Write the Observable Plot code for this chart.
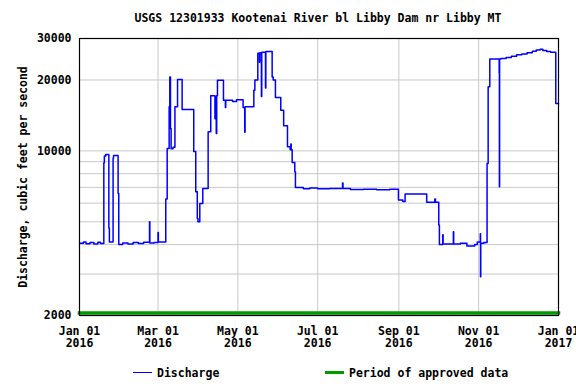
<!DOCTYPE html>
<html>
<head>
<meta charset="utf-8">
<script src="https://cdn.jsdelivr.net/npm/d3@7"></script>
<script src="https://cdn.jsdelivr.net/npm/@observablehq/plot@0.6"></script>
<style>
  body { margin: 0; background: #fff; }
  #wrap { position: relative; width: 576px; height: 384px; overflow: hidden;
          font-family: "DejaVu Sans Mono", monospace; font-weight: bold; font-size: 11.5px; color: #000; }
  #title { position: absolute; left: 60px; width: 516px; top: 11px; line-height: 14px; text-align: center; white-space: nowrap; }
  #chart { position: absolute; left: 0; top: 28px; }
  .lg { position: absolute; top: 366px; line-height: 14px; white-space: nowrap; }
  .sw { position: absolute; }
</style>
</head>
<body>
<div id="wrap">
  <div id="title"></div>
  <div id="chart"></div>
  <span class="sw" id="sw1" style="left:133px; top:372px; width:19px; height:1px; background:#0000ff;"></span>
  <span class="lg" id="lg1" style="left:157px;"></span>
  <span class="sw" id="sw2" style="left:325px; top:371px; width:19px; height:3px; background:#009900;"></span>
  <span class="lg" id="lg2" style="left:349px;"></span>
</div>
<script>
const titleText = "USGS 12301933 Kootenai River bl Libby Dam nr Libby MT";
const yLabel = "Discharge, cubic feet per second";
const seriesName = "Discharge";
const approvedName = "Period of approved data";

// Discharge step series (time of change, value in cfs)
const dischargeTimes = [
  "2016-01-01T00:00Z","2016-01-04T00:00Z","2016-01-06T00:00Z","2016-01-09T00:00Z","2016-01-12T00:00Z",
  "2016-01-15T00:00Z","2016-01-17T00:00Z","2016-01-19T14:00Z","2016-01-20T00:00Z","2016-01-21T00:00Z",
  "2016-01-23T10:00Z","2016-01-23T20:00Z","2016-01-26T16:00Z","2016-01-27T00:00Z","2016-01-30T12:00Z",
  "2016-01-31T00:00Z","2016-02-03T00:00Z","2016-02-07T00:00Z","2016-02-11T00:00Z","2016-02-15T00:00Z",
  "2016-02-19T00:00Z","2016-02-23T12:00Z","2016-02-23T18:00Z","2016-02-27T00:00Z","2016-03-01T00:00Z",
  "2016-03-01T06:00Z","2016-03-06T22:00Z","2016-03-08T00:00Z","2016-03-09T12:00Z","2016-03-10T00:00Z",
  "2016-03-10T12:00Z","2016-03-11T00:00Z","2016-03-12T12:00Z","2016-03-13T22:00Z","2016-03-15T22:00Z",
  "2016-03-19T10:00Z","2016-03-28T07:00Z","2016-03-29T20:00Z","2016-03-31T00:00Z","2016-03-31T12:00Z",
  "2016-04-01T22:00Z","2016-04-04T05:00Z","2016-04-08T07:00Z","2016-04-10T07:00Z","2016-04-13T12:00Z",
  "2016-04-13T20:00Z","2016-04-14T12:00Z","2016-04-14T20:00Z","2016-04-15T10:00Z","2016-04-20T00:00Z",
  "2016-04-21T12:00Z","2016-04-21T18:00Z","2016-04-27T00:00Z","2016-04-30T00:00Z","2016-05-05T00:00Z",
  "2016-05-06T06:00Z","2016-05-06T12:00Z","2016-05-13T05:00Z","2016-05-14T00:00Z","2016-05-16T06:00Z",
  "2016-05-17T12:00Z","2016-05-17T18:00Z","2016-05-19T00:00Z","2016-05-19T06:00Z","2016-05-22T03:00Z",
  "2016-05-22T09:00Z","2016-05-27T05:00Z","2016-05-28T00:00Z","2016-05-29T17:00Z","2016-06-02T19:00Z",
  "2016-06-05T00:00Z","2016-06-07T22:00Z","2016-06-10T00:00Z","2016-06-10T12:00Z","2016-06-10T18:00Z",
  "2016-06-11T12:00Z","2016-06-13T12:00Z","2016-06-14T00:00Z","2016-06-20T00:00Z","2016-06-25T00:00Z",
  "2016-07-01T00:00Z","2016-07-10T00:00Z","2016-07-20T00:00Z","2016-07-20T08:00Z","2016-07-26T00:00Z",
  "2016-08-05T00:00Z","2016-08-15T00:00Z","2016-08-25T00:00Z","2016-08-31T17:00Z","2016-09-04T00:00Z",
  "2016-09-05T19:00Z","2016-09-22T07:00Z","2016-09-28T12:00Z","2016-09-29T00:00Z","2016-10-01T12:00Z",
  "2016-10-02T00:00Z","2016-10-04T14:00Z","2016-10-04T20:00Z","2016-10-12T16:00Z","2016-10-12T22:00Z",
  "2016-10-18T00:00Z","2016-10-23T00:00Z","2016-10-29T00:00Z","2016-10-31T00:00Z","2016-11-02T06:00Z",
  "2016-11-02T10:00Z","2016-11-02T14:00Z","2016-11-05T00:00Z","2016-11-07T10:00Z","2016-11-08T06:00Z",
  "2016-11-09T12:00Z","2016-11-16T16:00Z","2016-11-16T20:00Z","2016-11-17T00:00Z","2016-11-18T00:00Z",
  "2016-11-22T00:00Z","2016-11-26T00:00Z","2016-11-30T00:00Z","2016-12-04T00:00Z","2016-12-08T00:00Z",
  "2016-12-12T00:00Z","2016-12-15T00:00Z","2016-12-18T00:00Z","2016-12-20T00:00Z","2016-12-23T00:00Z",
  "2016-12-26T00:00Z","2016-12-29T22:00Z","2016-12-31T23:45Z"
];
const dischargeValues = [
  4050, 4100, 4030, 4080, 4020,
  4090, 4040, 8900, 9500, 9650,
  4700, 4100, 9300, 9550, 6600,
  4000, 4060, 4020, 4080, 4040,
  4090, 5000, 4060, 4080, 4500,
  4100, 6240, 10240, 15400, 20600,
  12450, 10200, 10350, 15400, 20100,
  15000, 9950, 6700, 5160, 5000,
  5980, 6920, 12050, 17130, 13700,
  17000, 11850, 17130, 19960, 16400,
  15300, 16400, 16200, 16500, 15300,
  12000, 15400, 18100, 20000, 26000,
  23800, 26100, 17000, 26200, 18500,
  26400, 20600, 20000, 16850, 14880,
  12770, 10400, 10100, 10700, 10100,
  8920, 8150, 6990, 6900, 6950,
  6900, 6930, 7300, 6920, 6850,
  6880, 6840, 6870, 6180, 6100,
  6560, 6050, 6250, 6050, 4840,
  4000, 4400, 4020, 4530, 4020,
  4050, 3950, 4000, 4100, 4450,
  2920, 4050, 4080, 8830, 18730,
  24550, 21400, 7040, 24550, 24700,
  24900, 25200, 25600, 25800, 26100,
  26500, 26800, 27000, 26700, 26400,
  26200, 15880, 15800
];

// Period of approved data
const approvedPeriod = ["2016-01-01T00:00Z", "2017-01-01T00:00Z"];

// Axes
const xDomain = ["2016-01-01T00:00Z", "2017-01-01T00:00Z"];
const xTicks = ["2016-01-01T00:00Z","2016-03-01T00:00Z","2016-05-01T00:00Z","2016-07-01T00:00Z",
                "2016-09-01T00:00Z","2016-11-01T00:00Z","2017-01-01T00:00Z"];
const xGrid = ["2016-03-01T00:00Z","2016-05-01T00:00Z","2016-07-01T00:00Z","2016-09-01T00:00Z","2016-11-01T00:00Z"];
const yDomain = [2000, 30000];
const yTicks = [2000, 10000, 20000, 30000];
const yGrid = [3000, 4000, 5000, 6000, 7000, 8000, 9000, 10000, 20000];

const data = dischargeTimes.map((t, i) => ({t: new Date(t), v: dischargeValues[i]}));
const approved = approvedPeriod.map(t => ({t: new Date(t), v: yDomain[0]}));

document.getElementById("title").textContent = titleText;
document.getElementById("lg1").textContent = seriesName;
document.getElementById("lg2").textContent = approvedName;

const fmt = d3.utcFormat("%b %d\n%Y");

const chart = Plot.plot({
  width: 576,
  height: 322,
  marginLeft: 79,
  marginRight: 18,
  marginTop: 10,
  marginBottom: 35,
  style: {fontFamily: "'DejaVu Sans Mono', monospace", fontWeight: "bold", fontSize: "11.5px", color: "#000", background: "#fff", overflow: "visible"},
  x: {type: "utc", domain: xDomain.map(d => new Date(d))},
  y: {type: "log", domain: yDomain},
  marks: [
    Plot.ruleY(yGrid, {stroke: "#c8c8c8", strokeOpacity: 1}),
    Plot.ruleX(xGrid.map(d => new Date(d)), {stroke: "#c8c8c8", strokeOpacity: 1}),
    Plot.line(data, {x: "t", y: "v", curve: "step-after", stroke: "#0000ff", strokeWidth: 1.5}),
    Plot.line(approved, {x: "t", y: "v", stroke: "#009900", strokeWidth: 3.5, dy: -2.5, strokeLinecap: "square"}),
    Plot.frame({stroke: "#000", strokeWidth: 1.2}),
    Plot.axisY(yTicks, {tickSize: 0, tickPadding: 8, tickFormat: d => String(d),
      label: yLabel, labelAnchor: "center", labelArrow: "none", labelOffset: 61, fill: "#000"}),
    Plot.axisX(xTicks.map(d => new Date(d)), {tickSize: 0, tickPadding: 11, lineHeight: 1.02, tickFormat: fmt, label: null, fill: "#000"})
  ]
});
document.getElementById("chart").appendChild(chart);
</script>
</body>
</html>
